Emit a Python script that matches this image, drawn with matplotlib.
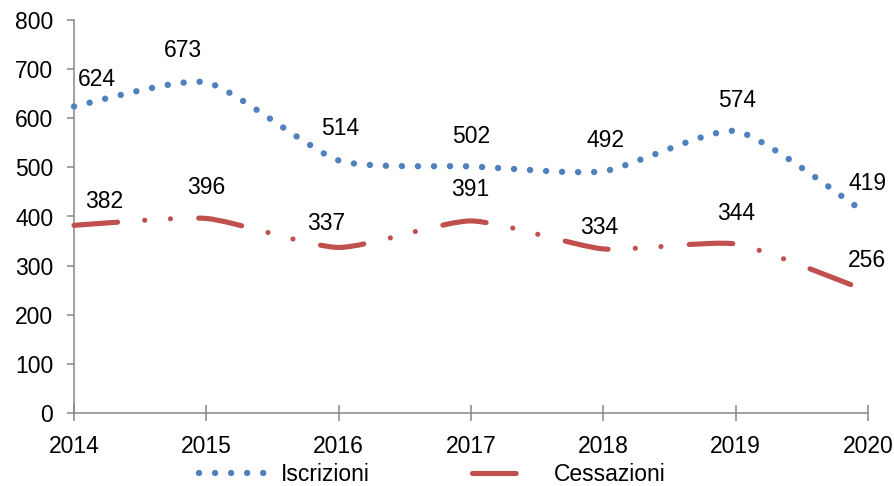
import numpy as np
import matplotlib
matplotlib.use("Agg")
import matplotlib.pyplot as plt
from matplotlib.path import Path
from matplotlib.patches import PathPatch
from matplotlib.lines import Line2D

plt.rcParams['font.family'] = ['Liberation Sans', 'DejaVu Sans']

# data
years = [2014, 2015, 2016, 2017, 2018, 2019, 2019.92]
iscrizioni = [624, 673, 514, 502, 492, 574, 419]
cessazioni = [382, 396, 337, 391, 334, 344, 256]
tick_years = [2014, 2015, 2016, 2017, 2018, 2019, 2020]

# label offsets in pixels (dx, dy up)
off_blue = [(23, 27), (-23, 32), (1, 32), (0, 30), (2, 31), (1, 31), (10, 24)]
off_red = [(30, 24), (0, 31), (-13, 24), (-1, 31), (-4, 21), (0, 31), (10, 27)]

BLUE = '#4F81BD'
RED = '#C0504D'
GREY = '#868686'
FS = 16.5


def smooth_path(xs, ys, k=0.1):
    # smoothed line: bezier segments, control points from neighbours
    pts = np.column_stack([xs, ys]).astype(float)
    n = len(pts)
    verts = [pts[0]]
    codes = [Path.MOVETO]
    for i in range(n - 1):
        p_prev = pts[max(i - 1, 0)]
        p0 = pts[i]
        p1 = pts[i + 1]
        p_next = pts[min(i + 2, n - 1)]
        c1 = p0 + (p1 - p_prev) * k
        c2 = p1 - (p_next - p0) * k
        verts += [c1, c2, p1]
        codes += [Path.CURVE4] * 3
    return Path(verts, codes)


fig = plt.figure(figsize=(8.95, 4.86), dpi=100)
ax = fig.add_axes([74 / 895, 73 / 486, 794 / 895, 393 / 486])

blue_ls = (0, (0.01, 2.5))
red_ls = (0, (8.5, 5.3, 0.01, 5.0, 0.01, 5.5))

p1 = PathPatch(smooth_path(years, iscrizioni), fill=False, edgecolor=BLUE,
               lw=4.6, linestyle=blue_ls, capstyle='round', joinstyle='round',
               clip_on=False, zorder=4)
p2 = PathPatch(smooth_path(years, cessazioni), fill=False, edgecolor=RED,
               lw=3.7, linestyle=red_ls, capstyle='round', joinstyle='round',
               clip_on=False, zorder=4)
ax.add_patch(p1)
ax.add_patch(p2)

for x, v, (dx, dy) in zip(years, iscrizioni, off_blue):
    ax.annotate(str(v), (x, v), xytext=(dx * 0.72, dy * 0.72), textcoords='offset points',
                ha='center', va='center', fontsize=FS, color='black')
for x, v, (dx, dy) in zip(years, cessazioni, off_red):
    ax.annotate(str(v), (x, v), xytext=(dx * 0.72, dy * 0.72), textcoords='offset points',
                ha='center', va='center', fontsize=FS, color='black')

ax.set_xlim(2014, 2020)
ax.set_ylim(0, 800)
ax.set_xticks(tick_years)
ax.set_xticklabels([str(y) for y in tick_years])
ax.set_yticks(range(0, 801, 100))

for s in ['top', 'right']:
    ax.spines[s].set_visible(False)
for s in ['left', 'bottom']:
    ax.spines[s].set_color(GREY)
    ax.spines[s].set_linewidth(1.1)

ax.tick_params(axis='x', direction='inout', length=11, width=1.1, color=GREY,
               labelsize=FS, pad=10)
ax.tick_params(axis='y', direction='out', length=5, width=1.1, color=GREY,
               labelsize=FS, pad=10)

handles = [
    Line2D([], [], color=BLUE, lw=4.6, linestyle=blue_ls, dash_capstyle='round'),
    Line2D([], [], color=RED, lw=3.7, linestyle=red_ls, dash_capstyle='round'),
]
fig.legend(handles, ['Iscrizioni', 'Cessazioni'], loc='center',
           bbox_to_anchor=(0.483, 0.023), ncol=2, frameon=False, fontsize=FS,
           handlelength=3, handletextpad=0.55, columnspacing=4.5)

fig.savefig('out.png', dpi=100)
